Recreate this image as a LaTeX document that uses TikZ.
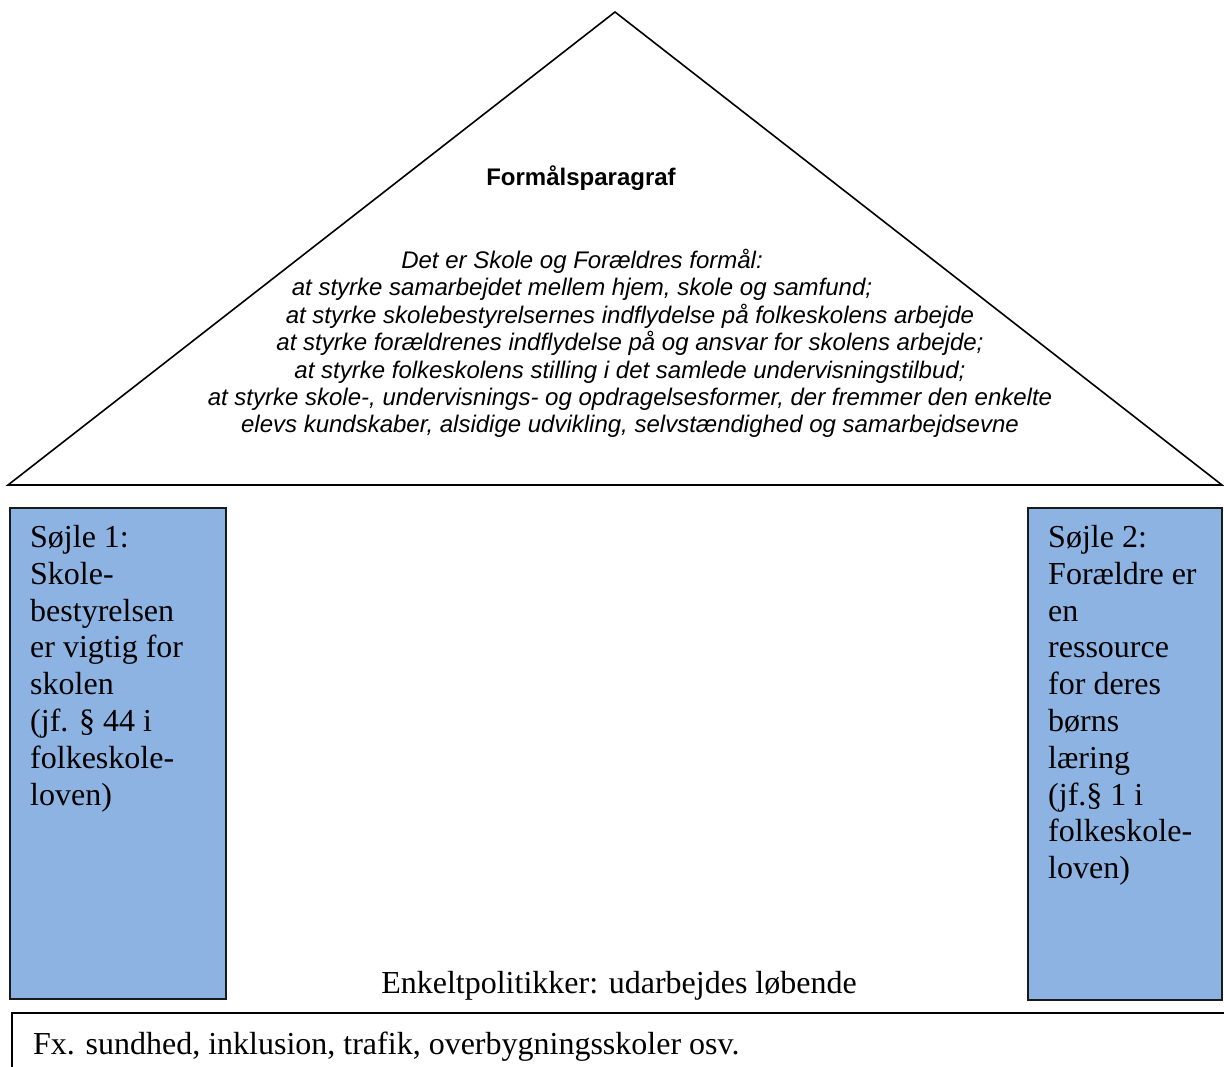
\documentclass[tikz,border=0pt]{standalone}
\usepackage{fontspec}
\setmainfont{Liberation Serif}
\newfontfamily\arialf{Liberation Sans}
\definecolor{pillarblue}{HTML}{8DB3E2}
\definecolor{pillaredge}{HTML}{1A1A1A}
\begin{document}
\begin{tikzpicture}[x=1pt,y=-1pt,
  roof/.style={draw=black,line width=1.6pt,line join=miter},
  pillar/.style={draw=pillaredge,fill=pillarblue,line width=1.8pt},
  pillartext/.style={anchor=north west,inner sep=0pt,align=left,font=\fontsize{32}{36.8}\selectfont},
  rooftext/.style={inner sep=0pt,align=center,font=\arialf\itshape\fontsize{24}{27.4}\selectfont},
  basebox/.style={draw=black,line width=1.8pt}]
\useasboundingbox (0,0) rectangle (1224,1066);
\coordinate (apex) at (615,12);
\coordinate (bl) at (8,485);
\coordinate (br) at (1222,485);
\draw[roof] (bl) -- (apex) -- (br) -- cycle;
\node[inner sep=0pt,font=\arialf\bfseries\fontsize{24}{27}\selectfont] (title) at (581,178) {Formålsparagraf};
\node[rooftext,anchor=north] (purpose) at (630,249) {Det er Skole og Forældres formål:\rule{96pt}{0pt}\\
at styrke samarbejdet mellem hjem, skole og samfund;\rule{96pt}{0pt}\\
at styrke skolebestyrelsernes indflydelse på folkeskolens arbejde\\
at styrke forældrenes indflydelse på og ansvar for skolens arbejde;\\
at styrke folkeskolens stilling i det samlede undervisningstilbud;\\
at styrke skole-, undervisnings- og opdragelsesformer, der fremmer den enkelte\\
elevs kundskaber, alsidige udvikling, selvstændighed og samarbejdsevne};
\node[pillar,minimum width=216pt,minimum height=491pt,anchor=north west,inner sep=0pt] (p1) at (9,507) {};
\node[pillar,minimum width=194pt,minimum height=492pt,anchor=north west,inner sep=0pt] (p2) at (1027,507) {};
\node[pillartext] (p1text) at (30,525) {Søjle 1:\\Skole-\\bestyrelsen\\er vigtig for\\skolen\\(jf. § 44 i\\folkeskole-\\loven)};
\node[pillartext] (p2text) at (1048,525) {Søjle 2:\\Forældre er\\en\\ressource\\for deres\\børns\\læring\\(jf.§ 1 i\\folkeskole-\\loven)};
\node[inner sep=0pt,anchor=base,font=\fontsize{32}{36}\selectfont] (policy) at (619,993) {Enkeltpolitikker: udarbejdes løbende};
\draw[basebox] (12,1080) -- (12,1013) -- (1240,1013);
\node[inner sep=0pt,anchor=base west,font=\fontsize{32}{36}\selectfont] (examples) at (33,1054) {Fx. sundhed, inklusion, trafik, overbygningsskoler osv.};
\end{tikzpicture}
\end{document}
